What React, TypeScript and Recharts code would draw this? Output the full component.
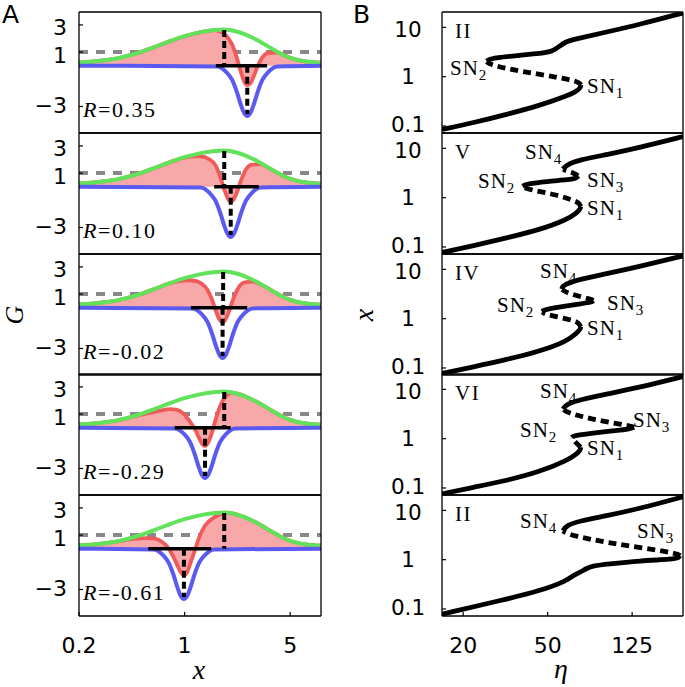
import React from 'react';
import { ComposedChart, Line, Area, XAxis, YAxis } from 'recharts';

// ---------------- Panel A data ----------------
const gTicksX = [0.2, 1, 5];
const gTicksY = [-3, 1, 3];
const rValues = ['0.35', '0.10', '-0.02', '-0.29', '-0.61'];

const greenX = [0.2, 0.251, 0.316, 0.398, 0.501, 0.631, 0.794, 1.0, 1.259, 1.585, 1.82, 1.995, 2.239, 2.512, 2.818, 3.162, 3.548, 3.981, 4.467, 5.012, 5.623, 6.31, 7.079, 8];
const greenG = [0.23, 0.31, 0.44, 0.66, 0.97, 1.37, 1.79, 2.17, 2.45, 2.62, 2.67, 2.63, 2.5, 2.31, 2.06, 1.77, 1.44, 1.11, 0.81, 0.58, 0.42, 0.32, 0.26, 0.22];

const blueG = [0, -0.05, -0.45, -1.05, -1.9, -2.95, -3.5, -3.7, -3.5, -2.95, -1.9, -1.05, -0.45, -0.05, 0];
const blueX1 = [0.2, 1.641, 1.883, 2.065, 2.213, 2.371, 2.483, 2.6, 2.722, 2.851, 3.055, 3.273, 3.589, 4.121, 8];
const blueX2 = [0.2, 1.275, 1.463, 1.604, 1.719, 1.842, 1.929, 2.02, 2.115, 2.215, 2.373, 2.543, 2.788, 3.202, 8];
const blueX3 = [0.2, 1.126, 1.293, 1.418, 1.519, 1.628, 1.705, 1.785, 1.869, 1.957, 2.097, 2.247, 2.464, 2.829, 8];
const blueX4 = [0.2, 0.862, 0.99, 1.085, 1.163, 1.246, 1.305, 1.366, 1.43, 1.498, 1.605, 1.72, 1.886, 2.165, 8];
const blueX5 = [0.2, 0.625, 0.717, 0.786, 0.843, 0.903, 0.945, 0.99, 1.037, 1.086, 1.163, 1.246, 1.367, 1.569, 8];

const redX1 = [0.2, 0.251, 0.316, 0.398, 0.501, 0.631, 0.794, 1.0, 1.259, 1.585, 1.641, 1.883, 2.065, 2.213, 2.371, 2.483, 2.6, 2.722, 2.851, 3.055, 3.273, 3.589, 4.121, 4.467, 5.012, 5.623, 6.31, 7.079, 8];
const redG1 = [0.23, 0.31, 0.44, 0.66, 0.97, 1.37, 1.79, 2.17, 2.45, 2.62, 2.58, 2.21, 1.55, 0.61, -0.54, -1.17, -1.42, -1.3, -0.85, 0.0, 0.62, 0.94, 0.96, 0.81, 0.58, 0.42, 0.32, 0.26, 0.22];
const redX2 = [0.2, 0.251, 0.316, 0.398, 0.501, 0.631, 0.794, 1.0, 1.13, 1.275, 1.463, 1.604, 1.719, 1.842, 1.929, 2.02, 2.115, 2.215, 2.373, 2.543, 2.788, 3.202, 3.548, 3.981, 4.467, 5.012, 5.623, 6.31, 7.079, 8];
const redG2 = [0.23, 0.31, 0.44, 0.66, 0.97, 1.37, 1.79, 2.14, 2.23, 2.24, 2.0, 1.57, 0.75, -0.28, -0.85, -1.1, -0.93, -0.44, 0.51, 1.24, 1.62, 1.66, 1.42, 1.11, 0.81, 0.58, 0.42, 0.32, 0.26, 0.22];
const redX3 = [0.2, 0.251, 0.316, 0.398, 0.501, 0.631, 0.794, 0.9, 1.0, 1.126, 1.293, 1.418, 1.519, 1.628, 1.705, 1.785, 1.869, 1.957, 2.097, 2.247, 2.464, 2.829, 3.162, 3.548, 3.981, 4.467, 5.012, 5.623, 6.31, 7.079, 8];
const redG3 = [0.23, 0.31, 0.44, 0.66, 0.97, 1.37, 1.79, 1.93, 2.02, 2.0, 1.78, 1.3, 0.6, -0.38, -0.88, -1.07, -0.85, -0.33, 0.62, 1.38, 1.85, 1.92, 1.75, 1.44, 1.11, 0.81, 0.58, 0.42, 0.32, 0.26, 0.22];
const redX4 = [0.2, 0.251, 0.316, 0.398, 0.501, 0.6, 0.7, 0.8, 0.88, 0.99, 1.085, 1.163, 1.246, 1.305, 1.366, 1.43, 1.498, 1.605, 1.72, 1.886, 2.05, 2.239, 2.512, 2.818, 3.162, 3.548, 3.981, 4.467, 5.012, 5.623, 6.31, 7.079, 8];
const redG4 = [0.23, 0.31, 0.44, 0.64, 0.92, 1.1, 1.28, 1.37, 1.33, 1.0, 0.45, -0.05, -0.75, -1.18, -1.35, -1.12, -0.55, 0.6, 1.6, 2.35, 2.58, 2.5, 2.31, 2.06, 1.77, 1.44, 1.11, 0.81, 0.58, 0.42, 0.32, 0.26, 0.22];
const redX5 = [0.2, 0.251, 0.316, 0.398, 0.47, 0.55, 0.636, 0.7, 0.74, 0.786, 0.843, 0.903, 0.945, 0.99, 1.037, 1.086, 1.163, 1.246, 1.367, 1.569, 1.74, 1.924, 2.239, 2.512, 2.818, 3.162, 3.548, 3.981, 4.467, 5.012, 5.623, 6.31, 7.079, 8];
const redG5 = [0.23, 0.31, 0.44, 0.62, 0.74, 0.78, 0.74, 0.55, 0.33, 0.0, -0.6, -1.3, -1.75, -1.94, -1.75, -1.15, -0.2, 0.8, 1.7, 2.3, 2.55, 2.65, 2.5, 2.31, 2.06, 1.77, 1.44, 1.11, 0.81, 0.58, 0.42, 0.32, 0.26, 0.22];

const blackSpan = [[1.61, 3.52], [1.57, 3.1], [1.1, 2.6], [0.86, 2.02], [0.575, 1.5]];
const peakX = [1.83, 1.83, 1.8, 1.83, 1.83];
const peakG = 2.62;
const dipX = [2.6, 2.02, 1.785, 1.366, 0.99];
const dipG = -3.55;
const thresholdG = 1;

// ---------------- Panel B data ----------------
const etaTicks = [20, 50, 125];
const xTicksB = [0.1, 1, 10];
const romanLabels = ['II', 'V', 'IV', 'VI', 'II'];

const b1Lower = [[15.9, 0.085], [22.3, 0.116], [32, 0.171], [46, 0.261], [61.5, 0.404], [68.6, 0.51], [71.4, 0.6], [71.8, 0.68]];
const b1Dash = [[71.8, 0.68], [70.5, 0.75], [66.1, 0.85], [46, 1.11], [32, 1.45], [26.7, 1.78], [25.8, 2.02]];
const b1Upper = [[25.8, 2.07], [26.7, 2.32], [32, 2.55], [46, 2.93], [53.1, 3.31], [57.1, 4.19], [60.4, 5.05], [66.1, 5.71], [94.8, 8.04], [136, 11.5], [217, 19.6]];

const b2Lower = [[15.9, 0.077], [22.3, 0.105], [32, 0.152], [46, 0.224], [61.5, 0.358], [68.6, 0.489], [71.3, 0.6], [71.6, 0.66]];
const b2Dash1 = [[71.6, 0.66], [70.5, 0.755], [68.5, 0.843], [55, 1.15], [42, 1.42], [38.1, 1.65]];
const b2Mid = [[38.1, 1.7], [39.7, 1.89], [49.4, 2.14], [63.6, 2.32], [68.5, 2.5], [69.7, 2.75]];
const b2Dash2 = [[69.7, 2.79], [66, 3.2], [61, 3.5], [59.2, 3.78]];
const b2Upper = [[59, 3.81], [61.5, 4.67], [71.1, 5.89], [94.8, 7.44], [136, 10.4], [217, 17.3]];

const b3Lower = [[15.9, 0.077], [22.3, 0.105], [32, 0.148], [46, 0.218], [61.5, 0.347], [68.6, 0.513], [71.4, 0.62], [71.6, 0.68]];
const b3Dash1 = [[71.6, 0.68], [70.3, 0.79], [68.5, 0.883], [58, 1.05], [49.4, 1.21], [47, 1.36]];
const b3Mid = [[46.9, 1.41], [49.4, 1.57], [66.1, 1.92], [80.7, 2.14], [82.1, 2.3]];
const b3Dash2 = [[82.1, 2.35], [80.7, 2.43], [61.5, 3.31], [58.5, 3.9]];
const b3Upper = [[58.2, 3.99], [59.3, 4.89], [71.1, 6.37], [94.8, 8.17], [136, 11.5], [217, 18.7]];

const b4Lower = [[15.9, 0.076], [22.3, 0.103], [32, 0.141], [46, 0.214], [61.5, 0.358], [68.6, 0.489], [71.4, 0.6], [71.6, 0.667]];
const b4Dash1 = [[71.6, 0.667], [69, 0.78], [66, 0.95], [64.9, 1.04]];
const b4Mid = [[64.9, 1.06], [66.1, 1.15], [79.3, 1.28], [102, 1.45], [122, 1.57], [127.7, 1.7]];
const b4Dash2 = [[127.7, 1.7], [122, 1.83], [79.3, 2.5], [61.5, 3.42], [59.2, 3.9]];
const b4Upper = [[59, 3.99], [61.5, 5.04], [71.1, 6.18], [94.8, 8.04], [136, 11.0], [217, 18.2]];

const b5Lower = [[15.9, 0.0786], [32, 0.158], [46, 0.233], [61.5, 0.372], [66.1, 0.485], [71.1, 0.55], [76.4, 0.673], [82.1, 0.75], [94.8, 0.81], [136, 0.95], [196, 1.02], [207, 1.1], [210.5, 1.2]];
const b5Dash = [[210.5, 1.2], [203, 1.35], [136, 1.77], [94.8, 2.23], [66.1, 3.04], [60.4, 3.55], [59, 3.8]];
const b5Upper = [[59, 3.84], [61.5, 5.0], [71.1, 6.12], [94.8, 7.74], [136, 10.9], [217, 18.9]];

// label positions (layout only)
const snLabels = [
  [[450, 75, '2'], [587, 93, '1']],
  [[525, 159, '4'], [478, 188, '2'], [587, 187, '3'], [587, 215, '1']],
  [[540, 278, '4'], [497, 312, '2'], [607, 310, '3'], [587, 335, '1']],
  [[540, 398, '4'], [520, 437, '2'], [633, 427, '3'], [587, 455, '1']],
  [[520, 528, '4'], [637, 538, '3']],
];

// ---------------- Assembly ----------------
const PANEL_TOPS = [12, 133, 254, 374, 495];
const PLOT_H = 121;
const SANS = "'DejaVu Sans', sans-serif";
const SERIF = "'Liberation Serif', serif";
const TICK_FS = 22;
const GREEN = '#62e25a';
const BLUE = '#5a5af0';
const RED = '#f05a5a';
const PINK = '#f8a8a8';

const pts = (xs: number[], ys: number[]) => xs.map((x, i) => ({ x, y: ys[i] }));
const pairPts = (arr: number[][]) => arr.map(([x, y]) => ({ x, y }));

const blueXs = [blueX1, blueX2, blueX3, blueX4, blueX5];
const redXs = [redX1, redX2, redX3, redX4, redX5];
const redGs = [redG1, redG2, redG3, redG4, redG5];

const bBranches = [
  [[b1Lower, false], [b1Dash, true], [b1Upper, false]],
  [[b2Lower, false], [b2Dash1, true], [b2Mid, false], [b2Dash2, true], [b2Upper, false]],
  [[b3Lower, false], [b3Dash1, true], [b3Mid, false], [b3Dash2, true], [b3Upper, false]],
  [[b4Lower, false], [b4Dash1, true], [b4Mid, false], [b4Dash2, true], [b4Upper, false]],
  [[b5Lower, false], [b5Dash, true], [b5Upper, false]],
] as [number[][], boolean][][];

const AXIS = { stroke: '#000', strokeWidth: 1.3 };
const TICKLINE = { stroke: '#000', strokeWidth: 1.2 };

const fmt = (v: number) => (v < 0 ? '\u2212' + Math.abs(v) : String(v));

const LeftYTick = (p: any) => {
  const v = p.payload.value;
  const nudge = v > 0 ? 3 : -1;
  return (
    <text x={67} y={p.y + nudge} textAnchor="end" dominantBaseline="central" fontFamily={SANS} fontSize={TICK_FS} fill="#000">
      {fmt(v)}
    </text>
  );
};
const RightYTick = (p: any) => {
  const v = p.payload.value;
  const nudge = v < 0.5 ? -1 : v > 5 ? 2 : 0;
  return (
    <text x={68} y={p.y + nudge} textAnchor="middle" dominantBaseline="central" fontFamily={SANS} fontSize={21.5} fill="#000">
      {String(v)}
    </text>
  );
};
const BottomTick = (p: any) => (
  <text x={p.x} y={160} textAnchor="middle" fontFamily={SANS} fontSize={TICK_FS} fill="#000">
    {String(p.payload.value)}
  </text>
);

function panelGeom(idx: number) {
  const isBottom = idx === 4;
  const bottomH = isBottom ? 49 : 1;
  const mBottom = isBottom ? 0 : 14;
  const height = 2 + PLOT_H + bottomH + mBottom;
  return { isBottom, bottomH, mBottom, height };
}

function LeftPanel({ idx }: { idx: number }) {
  const top = PANEL_TOPS[idx];
  const { isBottom, bottomH, mBottom, height } = panelGeom(idx);
  const threshold = [{ x: 0.2, y: thresholdG }, { x: 8, y: thresholdG }];
  const green = pts(greenX, greenG);
  const blue = pts(blueXs[idx], blueG);
  const red = pts(redXs[idx], redGs[idx]);
  const black = [{ x: blackSpan[idx][0], y: 0 }, { x: blackSpan[idx][1], y: 0 }];
  const upper = [{ x: peakX[idx], y: peakG }, { x: peakX[idx], y: 0 }];
  const lower = [{ x: dipX[idx], y: 0 }, { x: dipX[idx], y: dipG }];
  const common = { xAxisId: 'b', yAxisId: 'l', dataKey: 'y', isAnimationActive: false, dot: false, activeDot: false } as any;
  return (
    <div style={{ position: 'absolute', left: 0, top: top - 2 }}>
      <ComposedChart width={330} height={height} margin={{ top: 1, right: 8, bottom: mBottom, left: 0 }}>
        <XAxis xAxisId="b" type="number" dataKey="x" scale="log" domain={[0.2, 8]} allowDataOverflow ticks={gTicksX} interval={0}
          height={bottomH} tickSize={-4} tickMargin={0} tick={isBottom ? BottomTick : false} axisLine={AXIS} tickLine={TICKLINE} stroke="#000" />
        <XAxis xAxisId="t" orientation="top" type="number" dataKey="x" scale="log" domain={[0.2, 8]} allowDataOverflow ticks={gTicksX} interval={0}
          height={1} tickSize={-4} tick={false} axisLine={AXIS} tickLine={TICKLINE} stroke="#000" />
        <YAxis yAxisId="l" type="number" domain={[-4.95, 3.95]} allowDataOverflow ticks={gTicksY} interval={0}
          width={79} tickSize={-4} tickMargin={0} tick={LeftYTick} axisLine={AXIS} tickLine={TICKLINE} stroke="#000" />
        <YAxis yAxisId="r" orientation="right" type="number" domain={[-4.95, 3.95]} allowDataOverflow ticks={gTicksY} interval={0}
          width={1} tickSize={-4} tick={false} axisLine={AXIS} tickLine={TICKLINE} stroke="#000" />
        <Area {...common} data={threshold} type="linear" stroke="#888888" strokeWidth={4} strokeDasharray="9 8" fill="none" fillOpacity={0} />
        <Area {...common} data={red} type="monotone" baseValue={0} stroke={RED} strokeWidth={3.8} fill={PINK} fillOpacity={1} />
        <Line {...common} data={green} type="monotone" stroke={GREEN} strokeWidth={4} />
        <Line {...common} data={blue} type="monotone" stroke={BLUE} strokeWidth={4} />
        <Line {...common} data={black} type="linear" stroke="#000" strokeWidth={3.5} />
        <Line {...common} data={upper} type="linear" stroke="#000" strokeWidth={4} strokeDasharray="7 4" />
        <Line {...common} data={lower} type="linear" stroke="#000" strokeWidth={4} strokeDasharray="7 4" />
      </ComposedChart>
    </div>
  );
}

function RightPanel({ idx }: { idx: number }) {
  const top = PANEL_TOPS[idx];
  const { isBottom, bottomH, mBottom, height } = panelGeom(idx);
  return (
    <div style={{ position: 'absolute', left: 340, top: top - 2 }}>
      <ComposedChart width={345} height={height} margin={{ top: 1, right: 1, bottom: mBottom, left: 0 }}>
        <XAxis xAxisId="b" type="number" dataKey="x" scale="log" domain={[15.9, 217]} allowDataOverflow ticks={etaTicks} interval={0}
          height={bottomH} tickSize={-4} tickMargin={0} tick={isBottom ? BottomTick : false} axisLine={AXIS} tickLine={TICKLINE} stroke="#000" />
        <XAxis xAxisId="t" orientation="top" type="number" dataKey="x" scale="log" domain={[15.9, 217]} allowDataOverflow ticks={etaTicks} interval={0}
          height={1} tickSize={-4} tick={false} axisLine={AXIS} tickLine={TICKLINE} stroke="#000" />
        <YAxis yAxisId="l" type="number" scale="log" domain={[0.072, 20.5]} allowDataOverflow ticks={xTicksB} interval={0}
          width={102} tickSize={-4} tickMargin={0} tick={RightYTick} axisLine={AXIS} tickLine={TICKLINE} stroke="#000" />
        <YAxis yAxisId="r" orientation="right" type="number" scale="log" domain={[0.072, 20.5]} allowDataOverflow ticks={xTicksB} interval={0}
          width={1} tickSize={-4} tick={false} axisLine={AXIS} tickLine={TICKLINE} stroke="#000" />
        {bBranches[idx].map(([branch, dashed], k) => (
          <Line key={k} xAxisId="b" yAxisId="l" data={pairPts(branch)} dataKey="y" type="basis" stroke="#000"
            strokeWidth={4.8} strokeDasharray={dashed ? '8 5' : undefined} dot={false} activeDot={false} isAnimationActive={false} />
        ))}
      </ComposedChart>
    </div>
  );
}

function Overlay() {
  return (
    <svg width={685} height={687} style={{ position: 'absolute', left: 0, top: 0, pointerEvents: 'none' }}>
      <text x={2} y={23} fontFamily={SANS} fontSize={25} fill="#000">A</text>
      <text x={353} y={23} fontFamily={SANS} fontSize={25} fill="#000">B</text>
      <text x={199} y={679} textAnchor="middle" fontFamily={SERIF} fontStyle="italic" fontSize={28} fill="#000">x</text>
      <text x={561} y={678} textAnchor="middle" fontFamily={SERIF} fontStyle="italic" fontSize={28} fill="#000">η</text>
      <text transform="translate(23,315) rotate(-90)" textAnchor="middle" fontFamily={SERIF} fontStyle="italic" fontSize={26} fill="#000">G</text>
      <text transform="translate(373,315) rotate(-90)" textAnchor="middle" fontFamily={SERIF} fontStyle="italic" fontSize={28} fill="#000">x</text>
      {rValues.map((r, i) => (
        <text key={'r' + i} x={83} y={PANEL_TOPS[i] + 105} fontFamily={SERIF} fontSize={22} letterSpacing={1.5} fill="#000">
          <tspan fontStyle="italic">R</tspan>={r}
        </text>
      ))}
      {romanLabels.map((s, i) => (
        <text key={'n' + i} x={455} y={PANEL_TOPS[i] + 26} fontFamily={SERIF} fontSize={21} letterSpacing={1.5} fill="#000">{s}</text>
      ))}
      {snLabels.map((arr, i) =>
        arr.map(([x, y, sub], k) => (
          <text key={'sn' + i + '-' + k} x={x as number} y={y as number} fontFamily={SERIF} fontSize={21} letterSpacing={1} fill="#000">
            SN<tspan dy={5} fontSize={15}>{sub}</tspan>
          </text>
        ))
      )}
    </svg>
  );
}

export default function App() {
  return (
    <div style={{ position: 'absolute', left: 0, top: 0, width: 685, height: 687, background: '#fff', overflow: 'hidden' }}>
      {PANEL_TOPS.map((_, i) => <LeftPanel key={'a' + i} idx={i} />)}
      {PANEL_TOPS.map((_, i) => <RightPanel key={'b' + i} idx={i} />)}
      <Overlay />
    </div>
  );
}
